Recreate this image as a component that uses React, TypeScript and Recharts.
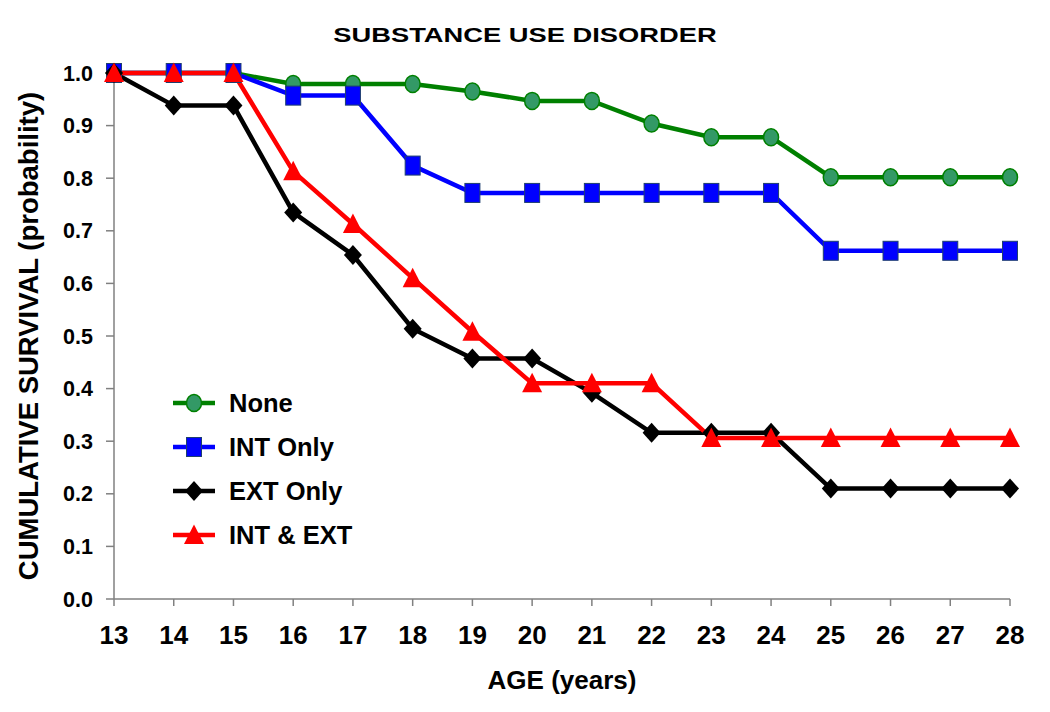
import { LineChart, Line, XAxis, YAxis, Legend, Label } from 'recharts';

const ages = [13, 14, 15, 16, 17, 18, 19, 20, 21, 22, 23, 24, 25, 26, 27, 28];
const noneValues = [1, 1, 1, 0.979, 0.979, 0.979, 0.965, 0.947, 0.947, 0.904, 0.878, 0.878, 0.802, 0.802, 0.802, 0.802];
const intOnlyValues = [1, 1, 1, 0.957, 0.957, 0.824, 0.772, 0.772, 0.772, 0.772, 0.772, 0.772, 0.662, 0.662, 0.662, 0.662];
const extOnlyValues = [1, 0.938, 0.938, 0.735, 0.654, 0.514, 0.457, 0.457, 0.392, 0.316, 0.316, 0.316, 0.21, 0.21, 0.21, 0.21];
const intExtValues = [1, 1, 1, 0.813, 0.713, 0.61, 0.508, 0.41, 0.41, 0.41, 0.306, 0.306, 0.306, 0.306, 0.306, 0.306];
const yTicks = [0, 0.1, 0.2, 0.3, 0.4, 0.5, 0.6, 0.7, 0.8, 0.9, 1.0];

const data = ages.map((age, i) => ({
  age,
  none: noneValues[i],
  intOnly: intOnlyValues[i],
  extOnly: extOnlyValues[i],
  intExt: intExtValues[i]
}));

type Marker = 'circle' | 'square' | 'diamond' | 'triangle';

const series: { key: string; name: string; color: string; marker: Marker }[] = [
  { key: 'none', name: 'None', color: '#008000', marker: 'circle' },
  { key: 'intOnly', name: 'INT Only', color: '#0000ff', marker: 'square' },
  { key: 'extOnly', name: 'EXT Only', color: '#000000', marker: 'diamond' },
  { key: 'intExt', name: 'INT & EXT', color: '#ff0000', marker: 'triangle' }
];

const FONT = '"Liberation Sans", Arial, sans-serif';

function MarkerShape({ kind, cx, cy }: { kind: Marker; cx: number; cy: number }) {
  switch (kind) {
    case 'circle':
      return <ellipse cx={cx} cy={cy} rx={7.5} ry={8.5} fill="#339966" stroke="#008000" strokeWidth={1.5} />;
    case 'square':
      return <rect x={cx - 7.5} y={cy - 9.5} width={15} height={19} fill="#0000ff" stroke="#1f3f6f" strokeWidth={1} />;
    case 'diamond':
      return <path d={`M${cx},${cy - 10} L${cx + 9},${cy} L${cx},${cy + 10} L${cx - 9},${cy} Z`} fill="#000" />;
    default:
      return <path d={`M${cx},${cy - 10.5} L${cx + 10},${cy + 9} L${cx - 10},${cy + 9} Z`} fill="#ff0000" />;
  }
}

const makeDot = (kind: Marker) => (props: any) => {
  const { cx, cy, index } = props;
  if (cx == null || cy == null) return <g key={`d-${index}`} />;
  return (
    <g key={`d-${kind}-${index}`}>
      <MarkerShape kind={kind} cx={cx} cy={cy} />
    </g>
  );
};

const renderLegend = () => (
  <div style={{ fontFamily: FONT, fontWeight: 'bold', fontSize: 25.5, color: '#000' }}>
    {series.map((s) => (
      <div key={s.key} style={{ display: 'flex', alignItems: 'center', height: 44 }}>
        <svg width={44} height={26}>
          <line x1={1} y1={13} x2={43} y2={13} stroke={s.color} strokeWidth={4.5} />
          <MarkerShape kind={s.marker} cx={22} cy={13} />
        </svg>
        <span style={{ marginLeft: 13 }}>{s.name}</span>
      </div>
    ))}
  </div>
);

export default function App() {
  return (
    <div style={{ position: 'absolute', left: 0, top: 0, width: 1050, height: 712, background: '#fff' }}>
      <div
        style={{
          position: 'absolute',
          top: 23,
          left: 0,
          width: 1050,
          textAlign: 'center',
          fontFamily: FONT,
          fontWeight: 'bold',
          fontSize: 21,
          lineHeight: '24px',
          transform: 'scaleX(1.3)',
          transformOrigin: '525px 0'
        }}
      >
        SUBSTANCE USE DISORDER
      </div>
      <LineChart width={1050} height={712} data={data} margin={{ top: 73, right: 40, left: 0, bottom: 0 }}>
        <XAxis
          dataKey="age"
          type="number"
          domain={[13, 28]}
          ticks={ages}
          interval={0}
          height={113}
          stroke="#808080"
          strokeWidth={1.5}
          tickSize={7}
          tickMargin={20}
          tick={{ fill: '#000', fontSize: 26, fontWeight: 'bold', fontFamily: '"Liberation Sans Narrow", ' + FONT }}
        >
          <Label
            value="AGE (years)"
            position="center"
            dy={24}
            style={{ fill: '#000', fontSize: 26, fontWeight: 'bold', fontFamily: FONT }}
          />
        </XAxis>
        <YAxis
          type="number"
          domain={[0, 1]}
          ticks={yTicks}
          interval={0}
          width={114}
          stroke="#808080"
          strokeWidth={1.5}
          tickSize={8}
          tickMargin={13}
          tickFormatter={(v) => Number(v).toFixed(1)}
          tick={{ fill: '#000', fontSize: 21.5, fontWeight: 'bold', fontFamily: FONT }}
        >
          <Label
            value="CUMULATIVE SURVIVAL (probability)"
            position="center"
            angle={-90}
            dx={-29}
            style={{ fill: '#000', fontSize: 27.5, fontWeight: 'bold', fontFamily: FONT, textAnchor: 'middle' }}
          />
        </YAxis>
        <Legend
          layout="vertical"
          align="center"
          verticalAlign="middle"
          content={renderLegend}
          wrapperStyle={{ left: 172, top: 381, width: 260 }}
        />
        {series.map((s) => (
          <Line
            key={s.key}
            dataKey={s.key}
            name={s.name}
            type="linear"
            stroke={s.color}
            strokeWidth={4.5}
            dot={makeDot(s.marker)}
            activeDot={false}
            isAnimationActive={false}
          />
        ))}
      </LineChart>
    </div>
  );
}
